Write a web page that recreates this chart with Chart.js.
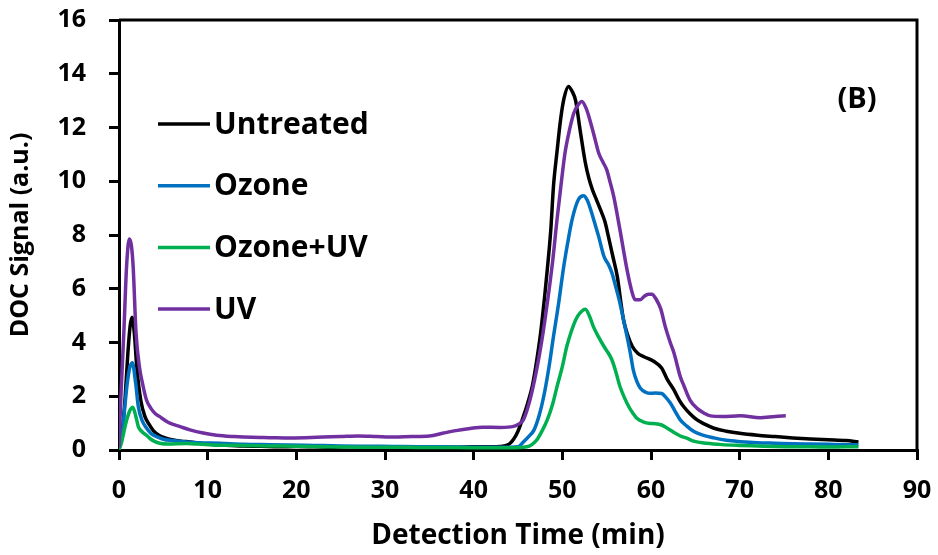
<!DOCTYPE html>
<html>
<head>
    <title>DOC Chromatogram (B)</title>
    <script src="https://cdn.jsdelivr.net/npm/chart.js"></script>
    <style>
        html, body { margin: 0; padding: 0; background: #fff; overflow: hidden; }
    </style>
</head>
<body>
    <canvas id="docChart" width="938" height="555"></canvas>

    <script>
        // Detection time (min) and DOC signal (a.u.) for each sample
        const untreatedTime = [0, 0.4, 0.7, 1.0, 1.25, 1.47, 1.73, 2.0, 2.45, 2.93, 3.4, 3.87, 4.5, 5.2, 6, 7, 8, 9, 10, 12, 14, 16, 18, 20, 22, 24, 26, 28, 30, 32, 34, 36, 38, 40, 42, 43, 44, 44.5, 45, 45.6, 46.1, 46.6, 47, 47.5, 48, 48.3, 48.7, 49, 49.4, 49.8, 50.2, 50.7, 51.1, 51.5, 52, 52.6, 53, 53.4, 53.8, 54.3, 54.8, 55.2, 55.7, 56.2, 56.6, 56.9, 57.4, 57.9, 58.5, 59.2, 60.3, 61.2, 61.8, 62.6, 63.2, 63.7, 64.4, 65.2, 66, 67.1, 68.5, 70, 72, 74, 76, 78, 80, 82, 83.4];
        const untreatedDoc = [0.03, 0.8, 2.0, 3.6, 4.6, 4.94, 4.35, 3.1, 1.86, 1.24, 0.95, 0.72, 0.55, 0.45, 0.38, 0.33, 0.3, 0.26, 0.22, 0.18, 0.15, 0.14, 0.12, 0.13, 0.12, 0.1, 0.12, 0.1, 0.11, 0.1, 0.1, 0.11, 0.1, 0.12, 0.12, 0.13, 0.22, 0.4, 0.7, 1.24, 1.75, 2.36, 3.1, 4.22, 5.7, 6.7, 8.2, 9.81, 11.1, 12.29, 13.1, 13.53, 13.35, 13.0, 11.92, 10.68, 10.1, 9.68, 9.35, 8.94, 8.5, 7.94, 7.2, 6.45, 5.5, 4.84, 4.25, 3.85, 3.6, 3.47, 3.3, 3.05, 2.65, 2.23, 1.85, 1.61, 1.35, 1.12, 0.97, 0.81, 0.7, 0.62, 0.55, 0.5, 0.45, 0.41, 0.38, 0.35, 0.3];

        const ozoneTime = [0, 0.3, 0.55, 0.9, 1.2, 1.5, 1.88, 2.18, 2.6, 3.1, 3.6, 4.4, 5, 6, 7.6, 9, 11.4, 14, 17, 19, 22, 25, 28, 31, 34, 37, 40, 43, 45, 45.6, 46.2, 46.8, 47.4, 47.9, 48.5, 49, 49.6, 50.1, 50.6, 51.1, 51.8, 52.4, 52.8, 53.2, 53.6, 54.1, 54.7, 55.2, 55.6, 56, 56.5, 56.9, 57.3, 57.7, 58, 58.4, 58.8, 59.4, 59.9, 60.5, 61.2, 61.7, 62.2, 62.7, 63.3, 64, 64.8, 65.6, 67.1, 68.5, 70.1, 72, 74, 76, 78, 80, 82, 83.4];
        const ozoneDoc = [0.03, 0.4, 1.24, 2.4, 3.05, 3.25, 2.48, 1.61, 1.1, 0.82, 0.62, 0.48, 0.4, 0.35, 0.3, 0.27, 0.25, 0.21, 0.2, 0.19, 0.17, 0.15, 0.14, 0.13, 0.12, 0.12, 0.1, 0.1, 0.12, 0.3, 0.5, 0.74, 1.3, 1.99, 3.1, 4.22, 5.5, 6.7, 7.7, 8.57, 9.31, 9.46, 9.3, 8.94, 8.5, 7.94, 7.2, 6.9, 6.58, 6.1, 5.46, 4.85, 4.22, 3.55, 2.98, 2.55, 2.3, 2.15, 2.11, 2.12, 2.1, 1.95, 1.74, 1.45, 1.12, 0.9, 0.7, 0.58, 0.45, 0.36, 0.31, 0.27, 0.25, 0.23, 0.22, 0.21, 0.2, 0.2];

        const ozoneUvTime = [0, 0.3, 0.6, 0.9, 1.2, 1.55, 1.9, 2.18, 2.6, 3.1, 3.6, 4.0, 4.6, 5.5, 7.6, 9, 11, 14, 17, 20, 23, 26, 29, 32, 35, 38, 41, 44, 46, 47.1, 47.7, 48.3, 48.9, 49.4, 50, 50.5, 51, 51.5, 52, 52.6, 53.1, 53.5, 54.1, 54.7, 55.2, 55.6, 56, 56.5, 57, 57.5, 58, 58.4, 59.1, 59.9, 60.5, 61.2, 61.8, 62.6, 63.3, 64.1, 64.8, 66.3, 68, 70, 72, 74, 76, 78, 80, 82, 83.4];
        const ozoneUvDoc = [0.02, 0.3, 0.75, 1.15, 1.45, 1.59, 1.25, 0.87, 0.68, 0.55, 0.4, 0.32, 0.25, 0.22, 0.24, 0.22, 0.18, 0.17, 0.15, 0.14, 0.12, 0.11, 0.1, 0.1, 0.09, 0.09, 0.08, 0.08, 0.12, 0.37, 0.7, 1.12, 1.7, 2.36, 3.1, 3.85, 4.4, 4.84, 5.1, 5.24, 4.95, 4.59, 4.2, 3.85, 3.6, 3.35, 2.95, 2.36, 1.95, 1.61, 1.35, 1.18, 1.05, 0.99, 0.98, 0.93, 0.82, 0.65, 0.52, 0.43, 0.33, 0.25, 0.2, 0.17, 0.15, 0.13, 0.12, 0.12, 0.11, 0.12, 0.12];

        const uvTime = [0, 0.2, 0.55, 0.85, 1.16, 1.4, 1.6, 1.92, 2.3, 2.7, 3.1, 3.6, 4.1, 4.6, 5.2, 5.8, 6.9, 8, 9.5, 11, 13, 15, 17, 19, 21, 23, 25, 27, 29, 31, 33, 35, 36.6, 38, 39.6, 41, 43, 44.5, 45, 45.6, 46.3, 47.1, 47.7, 48.3, 48.9, 49.4, 49.9, 50.3, 50.8, 51.3, 51.8, 52.2, 52.7, 53.2, 53.7, 54.1, 54.6, 55, 55.4, 55.8, 56.5, 57.3, 57.8, 58.2, 58.8, 59.2, 59.7, 60.1, 60.6, 61.1, 61.6, 62.2, 62.6, 63.3, 63.7, 64.4, 65.2, 66, 66.7, 68, 70.1, 72.3, 74, 75.2];
        const uvDoc = [0.1, 1.9, 4.4, 6.8, 7.85, 7.6, 6.8, 4.36, 3.1, 2.4, 1.86, 1.55, 1.35, 1.24, 1.1, 0.99, 0.87, 0.75, 0.63, 0.55, 0.5, 0.47, 0.46, 0.45, 0.46, 0.48, 0.5, 0.52, 0.5, 0.48, 0.5, 0.52, 0.63, 0.72, 0.8, 0.85, 0.84, 0.88, 0.95, 1.12, 1.8, 2.98, 4.1, 5.46, 7.0, 8.57, 10.0, 11.05, 11.9, 12.54, 12.85, 12.97, 12.7, 12.17, 11.55, 11.05, 10.7, 10.43, 9.95, 9.43, 8.19, 6.7, 5.95, 5.59, 5.59, 5.71, 5.8, 5.8, 5.6, 5.25, 4.6, 3.97, 3.6, 2.73, 2.4, 1.86, 1.55, 1.37, 1.27, 1.25, 1.27, 1.2, 1.25, 1.27];

        const seriesLabels = ['Untreated', 'Ozone', 'Ozone+UV', 'UV'];
        const seriesColors = ['#000000', '#0070C0', '#00B050', '#7030A0'];

        const FONT = '"Open Sans", Lato, sans-serif';
        const LINE_W = 3.5;

        function toPoints(times, values) {
            return times.map((t, i) => ({ x: t, y: values[i] }));
        }

        const pointSets = [
            toPoints(untreatedTime, untreatedDoc),
            toPoints(ozoneTime, ozoneDoc),
            toPoints(ozoneUvTime, ozoneUvDoc),
            toPoints(uvTime, uvDoc)
        ];

        // frame on top/right, panel tag and the inline legend
        const decorations = {
            id: 'decorations',
            afterDraw(chart) {
                const { ctx, chartArea: a } = chart;
                ctx.save();
                ctx.strokeStyle = '#000';
                ctx.lineWidth = 3;
                ctx.beginPath();
                ctx.moveTo(a.left, a.top);
                ctx.lineTo(a.right, a.top);
                ctx.lineTo(a.right, a.bottom);
                ctx.stroke();

                ctx.fillStyle = '#000';
                ctx.font = 'bold 29px ' + FONT;
                ctx.textAlign = 'center';
                ctx.textBaseline = 'middle';
                ctx.fillText('(B)', 857, 100);

                ctx.textAlign = 'left';
                ctx.font = 'bold 30px ' + FONT;
                chart.data.datasets.forEach((ds, i) => {
                    const y = 124 + i * 61.7;
                    ctx.strokeStyle = ds.borderColor;
                    ctx.lineWidth = LINE_W;
                    ctx.beginPath();
                    ctx.moveTo(158, y);
                    ctx.lineTo(210, y);
                    ctx.stroke();
                    ctx.fillText(ds.label, 214, y + 1);
                });
                ctx.restore();
            }
        };

        new Chart(document.getElementById('docChart'), {
            type: 'line',
            data: {
                datasets: pointSets.map((pts, i) => ({
                    label: seriesLabels[i],
                    data: pts,
                    borderColor: seriesColors[i],
                    borderWidth: LINE_W,
                    pointRadius: 0,
                    tension: 0.3,
                    cubicInterpolationMode: 'monotone',
                    fill: false,
                    order: seriesLabels.length - i
                }))
            },
            options: {
                responsive: false,
                animation: false,
                maintainAspectRatio: false,
                layout: { padding: { top: 20, right: 21, left: 0, bottom: 0 } },
                plugins: { legend: { display: false }, tooltip: { enabled: false } },
                scales: {
                    x: {
                        type: 'linear',
                        min: 0,
                        max: 90,
                        ticks: { stepSize: 10, color: '#000', padding: 16, font: { family: FONT, size: 25, weight: 'bold' } },
                        grid: { drawOnChartArea: false, drawTicks: true, tickLength: 10, color: '#000', lineWidth: 3 },
                        border: { color: '#000', width: 3 },
                        title: { display: true, text: 'Detection Time (min)', color: '#000', padding: { bottom: 2 }, font: { family: FONT, size: 28, weight: 'bold' } },
                        afterFit(scale) {
                            scale.height = 105;
                            scale.paddingLeft = 0;
                            scale.paddingRight = 0;
                        }
                    },
                    y: {
                        min: 0,
                        max: 16,
                        ticks: { stepSize: 2, color: '#000', padding: 23, font: { family: FONT, size: 25, weight: 'bold' } },
                        grid: { drawOnChartArea: false, drawTicks: true, tickLength: 10, color: '#000', lineWidth: 3 },
                        border: { color: '#000', width: 3 },
                        title: { display: true, text: 'DOC Signal (a.u.)', color: '#000', padding: { top: 6 }, font: { family: FONT, size: 25, weight: 'bold' } },
                        afterFit(scale) {
                            scale.width = 119;
                            scale.paddingTop = 0;
                            scale.paddingBottom = 0;
                        }
                    }
                }
            },
            plugins: [decorations]
        });
    </script>
</body>
</html>
